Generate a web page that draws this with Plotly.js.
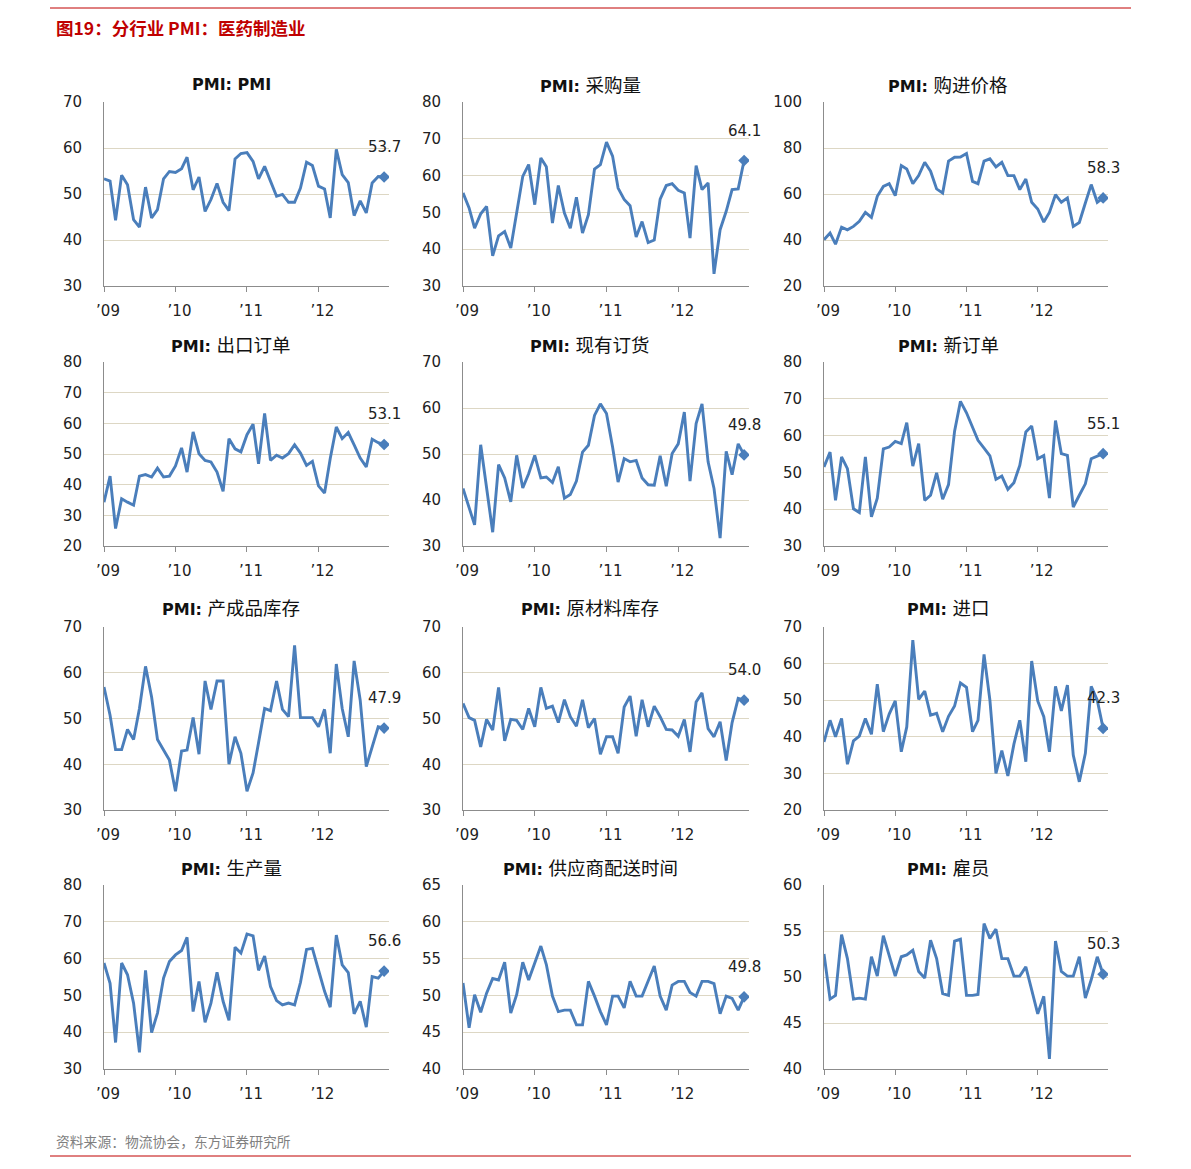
<!DOCTYPE html>
<html>
<head>
<meta charset="utf-8">
<script src="https://cdn.plot.ly/plotly-3.0.1.min.js"></script>
<style>
html,body{margin:0;padding:0;background:#fff;}
#chart{width:1191px;height:1169px;}
</style>
</head>
<body>
<div id="chart"></div>
<script>
// ---- data (monthly, Jan 2009 – Dec 2012) ----
const startYear = 2009;
const nMonths = 48;
const yearTicks = ['2009-01-01','2010-01-01','2011-01-01','2012-01-01'];
const yearLabels = ['\u201909','\u201910','\u201911','\u201912'];

const titlePrefix = 'PMI: ';
const titleNames = ['PMI','采购量','购进价格','出口订单','现有订货','新订单',
                    '产成品库存','原材料库存','进口','生产量','供应商配送时间','雇员'];

const pmi = [53.3,52.8,44.3,54.1,52.0,44.4,42.8,51.5,44.8,46.6,53.3,54.9,54.7,55.5,58.0,50.9,53.7,46.2,48.8,52.3,48.2,46.4,57.6,58.8,59.0,57.1,53.3,56.0,52.8,49.5,49.9,48.2,48.2,51.3,56.9,56.2,51.7,51.1,44.8,59.7,54.2,52.5,45.3,48.5,45.9,52.4,53.8,53.7];
const purchase = [55.3,51.2,45.7,49.6,51.6,38.2,43.6,44.8,40.3,49.8,59.8,63.0,52.1,64.8,62.4,47.1,57.3,49.8,45.7,54.1,44.4,49.4,61.8,63.0,69.1,65.3,56.6,53.5,51.8,43.3,47.5,41.8,42.5,53.6,57.3,57.8,56.0,55.3,43.0,62.7,56.2,58.0,33.3,45.3,50.3,56.2,56.4,64.1];
const inputPrice = [40.1,43.0,38.2,45.6,44.4,45.9,48.1,52.0,49.8,59.0,63.3,64.5,59.3,72.4,70.9,64.5,68.0,73.8,69.9,62.2,60.4,74.3,76.0,76.1,77.6,65.5,64.5,74.3,75.3,71.8,73.8,68.0,68.0,61.9,66.5,56.4,53.5,47.8,52.0,59.7,56.4,58.3,45.9,47.6,56.1,64.1,56.4,58.3];
const exportOrders = [34.3,42.8,25.7,35.4,34.3,33.3,42.8,43.3,42.5,45.4,42.5,42.8,46.1,52.0,44.1,57.2,50.1,47.9,47.4,44.1,37.8,55.0,51.7,50.7,56.3,59.7,46.8,63.2,47.9,49.6,48.7,50.1,53.0,50.3,46.3,47.6,39.6,37.3,48.5,58.8,55.0,57.0,53.0,48.7,45.8,54.8,53.7,53.1];
const backlog = [42.5,38.5,34.6,52.0,42.5,33.0,47.7,44.8,39.6,49.7,42.6,45.7,49.7,44.8,45.0,43.8,47.2,40.4,41.2,44.1,50.4,51.9,58.4,60.9,58.8,51.5,43.9,49.0,48.3,48.6,44.8,43.3,43.2,49.6,43.0,50.1,52.2,59.1,44.1,56.6,60.9,48.3,42.5,31.7,50.6,45.5,52.2,49.8];
const newOrders = [51.5,55.5,42.4,54.2,51.0,40.1,39.1,54.2,37.9,43.0,56.4,56.9,58.4,57.8,63.5,51.7,57.8,42.4,43.8,49.9,42.7,46.7,61.2,69.3,66.2,62.3,58.7,56.6,54.5,48.1,49.0,45.4,47.2,51.9,61.0,62.6,53.7,54.6,43.0,64.1,55.1,54.6,40.6,43.8,46.9,53.7,54.5,55.1];
const finishedInv = [56.9,50.7,43.2,43.2,47.6,45.4,52.2,61.4,54.7,45.4,43.1,40.9,34.1,42.9,43.1,50.2,42.2,58.2,52.0,58.2,58.2,40.0,46.0,42.4,34.1,38.1,44.7,52.2,51.7,58.2,52.0,50.4,66.0,50.2,50.2,50.2,48.2,52.0,42.4,61.9,52.2,46.0,62.6,54.0,39.5,43.8,48.2,47.9];
const rawInv = [53.3,50.2,49.6,43.8,49.8,47.5,56.8,45.1,49.8,49.6,47.6,52.2,48.2,56.8,52.2,52.7,49.1,54.1,50.4,48.3,54.1,48.0,50.0,42.2,46.0,46.0,42.4,52.5,54.9,46.1,54.1,48.2,52.7,50.4,47.6,47.5,46.1,49.8,42.7,53.6,55.6,47.8,46.0,49.3,40.8,49.1,54.4,54.0];
const imports = [38.6,44.5,40.0,45.0,32.5,38.9,40.2,45.0,40.7,54.4,41.4,46.2,49.8,35.9,42.7,66.4,50.2,52.5,45.9,46.4,41.4,45.6,48.4,54.7,53.5,41.4,44.5,62.5,50.0,30.0,36.2,29.3,38.0,44.5,33.2,60.7,49.8,45.5,35.9,53.8,47.1,54.1,35.0,27.7,35.5,53.8,50.0,42.3];
const output = [58.8,53.3,37.2,58.8,55.6,47.9,34.5,56.8,39.9,45.2,54.7,59.2,61.0,62.2,65.8,45.6,53.8,42.7,47.9,56.3,48.4,43.2,63.1,61.5,66.7,66.2,56.8,60.7,52.4,48.6,47.4,47.9,47.4,53.5,62.5,62.8,56.9,51.1,46.8,66.4,58.3,56.2,45.0,48.4,41.4,55.1,54.7,56.6];
const delivery = [51.7,45.6,50.1,47.7,50.3,52.3,52.1,54.5,47.6,50.1,54.5,52.1,54.4,56.7,54.2,49.9,47.8,48.0,48.0,46.0,46.0,51.9,49.9,47.8,46.0,49.9,49.9,48.3,51.9,49.9,49.9,51.9,54.0,49.9,48.0,51.4,51.9,51.9,50.4,49.9,51.9,51.9,51.6,47.5,49.9,49.6,48.0,49.8];
const employment = [52.5,47.6,48.0,54.6,52.0,47.6,47.7,47.6,52.2,50.1,54.5,52.3,50.1,52.2,52.4,52.9,50.6,49.9,54.0,52.0,48.2,48.0,53.9,54.1,48.0,48.0,48.1,55.8,54.2,55.2,52.0,52.0,50.1,50.1,51.1,48.6,46.0,47.9,41.1,53.9,50.6,50.1,50.1,52.2,47.7,49.7,52.2,50.3];

const yRanges = [[30,70],[30,80],[20,100],[20,80],[30,70],[30,80],[30,70],[30,70],[20,70],[30,80],[40,65],[40,60]];
const yDticks = [10,10,20,10,10,10,10,10,10,10,5,5];
const series = [pmi,purchase,inputPrice,exportOrders,backlog,newOrders,finishedInv,rawInv,imports,output,delivery,employment];

// ---- layout geometry (pixels) ----
const W = 1191, H = 1169;
const colPx = [[104,389],[463,749],[824,1108]];
const rowPx = [[102,286],[362,546],[627,810],[885,1069]];
const titleCenters = [231,590,948];
const titleYs = [84,344,607,867];

const months = [];
for (let i = 0; i < nMonths; i++) {
  const y = startYear + Math.floor(i/12), m = (i%12)+1;
  months.push(y + '-' + String(m).padStart(2,'0') + '-01');
}

const blue = '#4a7ebb';
const tickFont = {family:'DejaVu Sans, Verdana, sans-serif', size:15, color:'#222'};
const traces = [];
const layout = {
  width: W, height: H,
  margin: {l:0,r:0,t:0,b:0},
  paper_bgcolor:'#fff', plot_bgcolor:'#fff',
  showlegend:false,
  annotations: [],
  shapes: []
};

for (let k = 0; k < 12; k++) {
  const r = Math.floor(k/3), c = k%3;
  const xa = k===0 ? 'x' : 'x'+(k+1);
  const ya = k===0 ? 'y' : 'y'+(k+1);
  const xkey = k===0 ? 'xaxis' : 'xaxis'+(k+1);
  const ykey = k===0 ? 'yaxis' : 'yaxis'+(k+1);
  const vals = series[k];
  traces.push({
    type:'scatter', mode:'lines', x: months, y: vals, xaxis: xa, yaxis: ya,
    line:{color:blue, width:2.9}, hoverinfo:'skip'
  });
  const last = vals.length - 1;
  traces.push({
    type:'scatter', mode:'markers', x:[months[last]], y:[vals[last]], xaxis: xa, yaxis: ya,
    marker:{symbol:'diamond', size:9, color:blue}, hoverinfo:'skip'
  });
  layout[xkey] = {
    domain:[colPx[c][0]/W, colPx[c][1]/W],
    anchor: ya,
    type:'date',
    range:['2009-01-01','2012-12-26'],
    tickmode:'array', tickvals: yearTicks, ticktext: yearLabels,
    showgrid:false, zeroline:false,
    showline:true, linecolor:'#8c8c8c', linewidth:1,
    ticks:'outside', ticklen:5, tickcolor:'#8c8c8c',
    tickfont: tickFont, ticklabelstandoff: 6, ticklabelshift: 4
  };
  layout[ykey] = {
    domain:[1 - rowPx[r][1]/H, 1 - rowPx[r][0]/H],
    anchor: xa,
    range: yRanges[k], dtick: yDticks[k], tick0: 0,
    showgrid:true, gridcolor:'#ddd7c4', gridwidth:1,
    zeroline:false,
    showline:true, linecolor:'#8c8c8c', linewidth:1,
    ticks:'', tickfont: tickFont, ticklabelstandoff: 18
  };
  const isCJK = /[\u4e00-\u9fff]/.test(titleNames[k]);
  const nameHtml = isCJK
    ? '<span style="font-size:18.5px;font-family:\'Noto Sans CJK SC\';">' + titleNames[k] + '</span>'
    : '<b>' + titleNames[k] + '</b>';
  layout.annotations.push({
    xref:'paper', yref:'paper', x: titleCenters[c]/W, y: 1 - titleYs[r]/H,
    xanchor:'center', yanchor:'middle', showarrow:false,
    text:'<b>' + titlePrefix + '</b>' + nameHtml,
    font:{family:'DejaVu Sans, Noto Sans CJK SC, sans-serif', size:16, color:'#111'}
  });
  layout.annotations.push({
    xref: xa, yref: ya, x: months[last], y: vals[last],
    xanchor:'center', yanchor:'middle', yshift: 30, showarrow:false,
    text: vals[last].toFixed(1),
    font:{family:'DejaVu Sans, Verdana, sans-serif', size:15, color:'#222'}
  });
}

// page title and footer
layout.annotations.push({
  xref:'paper', yref:'paper', x: 54/W, y: 1 - 28/H, xanchor:'left', yanchor:'middle', showarrow:false,
  text:'<b>图19：分行业 PMI：医药制造业</b>',
  font:{family:'Noto Sans CJK SC, sans-serif', size:17.5, color:'#c00000'}
});
layout.annotations.push({
  xref:'paper', yref:'paper', x: 54/W, y: 1 - 1141/H, xanchor:'left', yanchor:'middle', showarrow:false,
  text:'资料来源：物流协会，东方证券研究所',
  font:{family:'Noto Sans CJK SC, sans-serif', size:13.8, color:'#808080'}
});
layout.shapes.push({type:'line', xref:'paper', yref:'paper', x0:50/W, x1:1131/W, y0:1-8/H, y1:1-8/H, line:{color:'#c00000', width:1}});
layout.shapes.push({type:'line', xref:'paper', yref:'paper', x0:50/W, x1:1131/W, y0:1-1156/H, y1:1-1156/H, line:{color:'#c00000', width:1}});

Plotly.newPlot('chart', traces, layout, {staticPlot:true, displayModeBar:false});
</script>
</body>
</html>
